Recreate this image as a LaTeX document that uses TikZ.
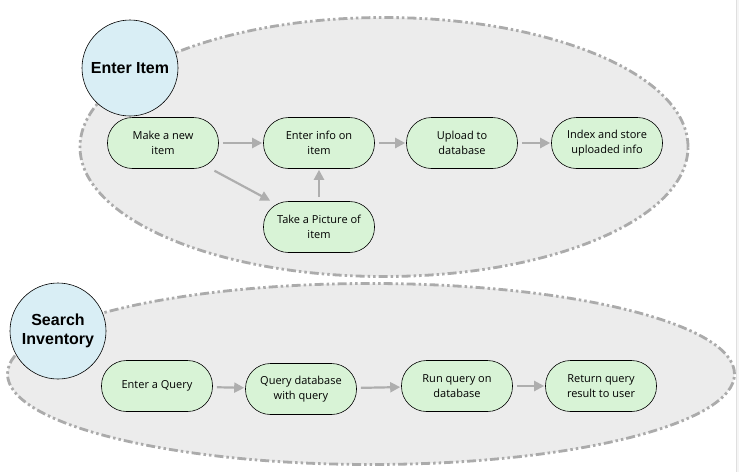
\documentclass[tikz,border=0pt]{standalone}
\usepackage{fontspec}
\newfontfamily\boxfont{Open Sans}
\newfontfamily\headfont{Liberation Sans}
\usetikzlibrary{arrows.meta,shapes.geometric}

\definecolor{groupfill}{HTML}{ECECEC}
\definecolor{groupline}{HTML}{ABABAB}
\definecolor{stepfill}{HTML}{D8F3D6}
\definecolor{headfill}{HTML}{D9EEF5}
\definecolor{flowline}{HTML}{AEAEAE}

\begin{document}
\begin{tikzpicture}[x=1pt,y=-1pt,
	group/.style={ellipse,inner sep=0pt,fill=groupfill,draw=groupline,line width=2.8pt,
		dash pattern=on 9pt off 3pt on 2.5pt off 3pt on 2.5pt off 3pt},
	head/.style={circle,draw=black,fill=headfill,line width=0.6pt,minimum size=96pt,inner sep=0pt,
		align=center,font=\headfont\bfseries\fontsize{16}{19}\selectfont},
	stepbox/.style={rectangle,rounded corners=25pt,draw=black,fill=stepfill,line width=0.6pt,
		minimum width=111pt,minimum height=51pt,inner sep=0pt,align=center,
		font=\boxfont\fontsize{11}{15}\selectfont},
	flow/.style={draw=flowline,line width=2.2pt,-{Triangle[length=10pt,width=10pt]},
		shorten <=4pt,shorten >=1pt}]
\useasboundingbox (0,0) rectangle (739,472);

%scroll bar edge
			\fill[gray!8] (736,0) rectangle (739,472);
			\draw[gray!25] (736,0) -- (736,472);

%draw groups
			\node[group,minimum width=608pt,minimum height=259pt] (enterGroup) at (384,147) {};
			\node[group,minimum width=727pt,minimum height=181pt] (searchGroup) at (371,374) {};

%draw group titles
			\node[head] (enterItem) at (130,68) {Enter Item};
			\node[head] (searchInv) at (58,331) {Search\\Inventory};

%draw steps of enter item
			\node[stepbox] (makeItem) at (163,143) {Make a new\\item};
			\node[stepbox] (enterInfo) at (319,143) {Enter info on\\item};
			\node[stepbox] (takePic) at (319,227) {Take a Picture of\\item};
			\node[stepbox] (upload) at (462,143) {Upload to\\database};
			\node[stepbox] (indexInfo) at (607,143) {Index and store\\uploaded info};

%draw steps of search inventory
			\node[stepbox] (enterQuery) at (157,386) {Enter a Query};
			\node[stepbox] (queryDb) at (301,389) {Query database\\with query};
			\node[stepbox] (runQuery) at (457,386) {Run query on\\database};
			\node[stepbox] (returnQuery) at (601,386) {Return query\\result to user};

%draw arrows
			\draw[flow] (makeItem) -- (enterInfo);
			\draw[flow] (makeItem) -- (takePic);
			\draw[flow] (takePic) -- (enterInfo);
			\draw[flow] (enterInfo) -- (upload);
			\draw[flow] (upload) -- (indexInfo);

			\draw[flow] (enterQuery) -- (queryDb);
			\draw[flow] (queryDb) -- (runQuery);
			\draw[flow] (runQuery) -- (returnQuery);

		\end{tikzpicture}
\end{document}
